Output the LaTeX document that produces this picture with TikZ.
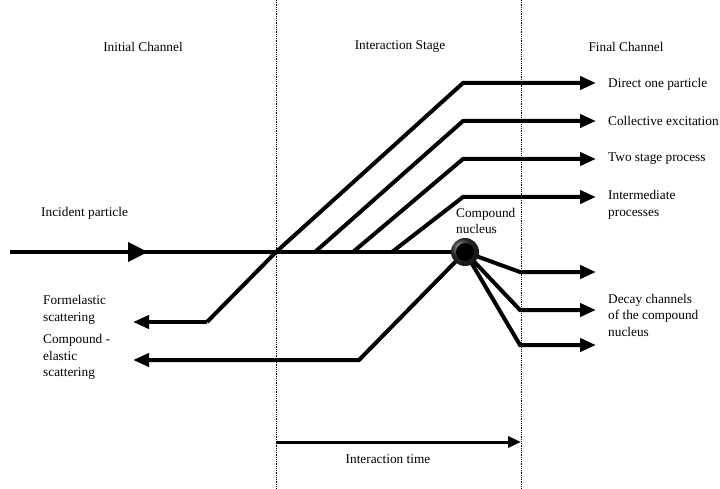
\documentclass[tikz,border=0pt]{standalone}
\usepackage{fontspec}
\setmainfont{Liberation Serif}
\usetikzlibrary{arrows.meta}

\tikzset{
  track/.style={line width=4pt, line join=miter},
  trackarrow/.style={track, -{Triangle[length=16pt,width=13pt]}},
  stageline/.style={densely dotted, line width=0.8pt},
  title/.style={font=\fontsize{13.3}{16}\selectfont, inner sep=0pt},
  label/.style={font=\fontsize{13.3}{16.5}\selectfont, align=left, anchor=west, inner sep=0pt}
}

\begin{document}
\begin{tikzpicture}[x=1pt,y=-1pt]
\useasboundingbox (0,0) rectangle (720,489);

% we draw the stage borders
\coordinate (b1top) at (276,0);  \coordinate (b1bot) at (276,489);
\coordinate (b2top) at (521,0);  \coordinate (b2bot) at (521,489);
\draw[stageline] (b1top) -- (b1bot);
\draw[stageline] (b2top) -- (b2bot);

% we add the stage names
\node[title] (initial) at (143,47) {Initial Channel};
\node[title] (stage) at (400,47) {Interaction Stage};
\node[title] (final) at (626,47) {Final Channel};

% points on the tracks
\coordinate (start) at (10,252);
\coordinate (mid) at (148,252);
\coordinate (hit) at (276,252);
\coordinate (cn) at (465,252);
\coordinate (k1) at (463,83);  \coordinate (e1) at (596,83);
\coordinate (s2) at (315,252); \coordinate (k2) at (463,121); \coordinate (e2) at (596,121);
\coordinate (s3) at (353,252); \coordinate (k3) at (463,159); \coordinate (e3) at (596,159);
\coordinate (s4) at (392,252); \coordinate (k4) at (463,197); \coordinate (e4) at (596,197);
\coordinate (f1) at (207,322); \coordinate (fe) at (133,322);
\coordinate (c1) at (359,360); \coordinate (ce) at (133,360);
\coordinate (d1) at (520,272); \coordinate (g1) at (596,272);
\coordinate (d2) at (520,310); \coordinate (g2) at (596,310);
\coordinate (d3) at (520,345); \coordinate (g3) at (596,345);

% we draw the incident particle
\draw[track] (start) -- (cn);
\draw[track, -{Triangle[length=20pt,width=19pt]}] (start) -- (mid);

% direct and formelastic
\draw[trackarrow] (f1) -- (fe);
\draw[trackarrow] (f1) -- (hit) -- (k1) -- (e1);
\draw[trackarrow] (s2) -- (k2) -- (e2);
\draw[trackarrow] (s3) -- (k3) -- (e3);
\draw[trackarrow] (s4) -- (k4) -- (e4);

% compound elastic
\draw[trackarrow] (cn) -- (c1) -- (ce);

% decay of the compound nucleus
\draw[trackarrow] (cn) -- (d1) -- (g1);
\draw[trackarrow] (cn) -- (d2) -- (g2);
\draw[trackarrow] (cn) -- (d3) -- (g3);

% we draw the compound nucleus
\shade[ball color=black!80] (cn) circle (14pt);
\fill[black] (cn) circle (9pt);

% we add some labels
\node[label] (incident) at (41,213) {Incident particle};
\node[label] (formel) at (43,310) {Formelastic\\scattering};
\node[label] (compel) at (43,357) {Compound -\\elastic\\scattering};
\node[label] (nucleus) at (456,221) {Compound\\nucleus};
\node[label] (direct) at (608,84) {Direct one particle};
\node[label] (collect) at (608,121) {Collective excitation};
\node[label] (twostage) at (608,159) {Two stage process};
\node[label] (intermed) at (608,205) {Intermediate\\processes};
\node[label] (decay) at (608,315) {Decay channels\\of the compound\\nucleus};

% interaction time
\coordinate (t1) at (276,442);
\coordinate (t2) at (521,442);
\draw[line width=3pt, -{Triangle[length=13pt,width=11pt]}] (t1) -- (t2);
\node[title] (itime) at (388,459) {Interaction time};

\end{tikzpicture}
\end{document}
